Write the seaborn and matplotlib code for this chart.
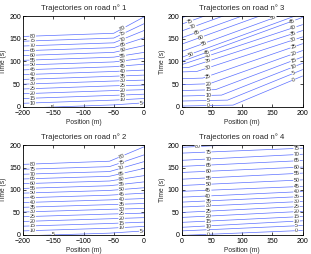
import numpy as np
import pandas as pd
import matplotlib
matplotlib.use('Agg')
import matplotlib.pyplot as plt
import seaborn as sns

# ---- road 1 (incoming, x from -200 to 0) ----
road1_veh = list(range(5, 85, 5))
road1_x_bend = -50
road1_t_start = [-2.5, 8, 18.5, 29, 39.5, 50, 60.5, 71, 81.5, 92, 102.5, 113, 123.5, 134, 144.5, 155]
road1_t_bend = [4.5, 15, 25.5, 36, 46.5, 57, 67.5, 78, 88.5, 99, 109.5, 120, 130.5, 141, 151.5, 162]
road1_t_end = [9, 18.5, 28, 38, 48, 59, 70, 81, 94, 107, 120, 135, 152, 168, 183, 198]

# ---- road 2 (incoming, x from -200 to 0) ----
road2_veh = list(range(5, 85, 5))
road2_x_bend = -57
road2_t_start = [-2, 9, 19.5, 30, 40.5, 51, 61.5, 72, 82.5, 93, 103.5, 114, 124.5, 135, 146, 157]
road2_t_bend = [4, 15, 25.5, 36, 46.5, 57, 67.5, 78, 88.5, 99, 109.5, 120, 130.5, 141, 152, 164]
road2_t_end = [9, 19, 28.5, 38.5, 48.5, 59, 70, 81, 93, 105, 118, 132, 148, 163, 178, 196]

# ---- road 3 (outgoing, x from 0 to 200) ----
road3_veh = list(range(0, 85, 5))
road3_x_bend = [85, 76, 66, 56, 46, 35, 25, 12, 0, 0, 0, 0, 0, 0, 0, 0, 0]
road3_t_start = [2, 13, 24, 36, 49, 62, 77, 86, 93, 100, 109, 122, 138, 152, 167, 182, 196]
road3_t_bend = [4, 15, 26, 38, 51, 63.5, 78, 87, 93, 100, 109, 122, 138, 152, 167, 182, 196]
road3_t_end = [68, 82, 96, 110, 124, 139, 154, 168, 181, 197, 206, 219, 234, 248, 263, 277, 291]

# ---- road 4 (outgoing, x from 0 to 200) ----
road4_veh = list(range(0, 85, 5))
road4_t_start = [-1, 9, 17, 28, 39, 50, 62, 73, 84, 97, 110, 124, 139, 152.5, 166, 182, 195]
road4_t_end = [10, 21, 31.5, 41, 52.5, 63.5, 74.5, 85.5, 96.5, 108, 122.5, 137.5, 151, 165.5, 179.5, 193, 208]

# label x positions (clabel-like)
road1_lab_x = [[-152, -5]] + [[-184, -35]] * 15
road2_lab_x = [[-150, -5]] + [[-184, -37]] * 15
road3_lab_x = [[44, 185]] * 9 + [[42, 183], [15], [37, 152], [32], [25], [19.5], [14], []]
road4_lab_x = [[44, 190]] * 16 + [[27]]

LINE_COLOR = '#5c70ff'


def to_frame(veh, xs, ts):
    rows = []
    for v, xv, tv in zip(veh, xs, ts):
        for x, t in zip(xv, tv):
            rows.append({'veh': v, 'x': x, 't': t})
    return pd.DataFrame(rows)


roads = []
roads.append(dict(
    title='Trajectories on road n° 1', xlim=(-200, 0), veh=road1_veh,
    xs=[[-200, road1_x_bend, 0]] * len(road1_veh),
    ts=[list(a) for a in zip(road1_t_start, road1_t_bend, road1_t_end)],
    lab=road1_lab_x, ticks=[-200, -150, -100, -50, 0]))
roads.append(dict(
    title='Trajectories on road n° 3', xlim=(0, 200), veh=road3_veh,
    xs=[[0, b, 200] if b > 0 else [0, 200] for b in road3_x_bend],
    ts=[[a, b, c] if xb > 0 else [a, c]
        for a, b, c, xb in zip(road3_t_start, road3_t_bend, road3_t_end, road3_x_bend)],
    lab=road3_lab_x, ticks=[0, 50, 100, 150, 200]))
roads.append(dict(
    title='Trajectories on road n° 2', xlim=(-200, 0), veh=road2_veh,
    xs=[[-200, road2_x_bend, 0]] * len(road2_veh),
    ts=[list(a) for a in zip(road2_t_start, road2_t_bend, road2_t_end)],
    lab=road2_lab_x, ticks=[-200, -150, -100, -50, 0]))
roads.append(dict(
    title='Trajectories on road n° 4', xlim=(0, 200), veh=road4_veh,
    xs=[[0, 200]] * len(road4_veh),
    ts=[list(a) for a in zip(road4_t_start, road4_t_end)],
    lab=road4_lab_x, ticks=[0, 50, 100, 150, 200]))

sns.set_style('ticks')
plt.rcParams['font.family'] = ['Liberation Sans', 'DejaVu Sans']
plt.rcParams.update({
    'xtick.direction': 'in', 'ytick.direction': 'in',
    'xtick.top': True, 'ytick.right': True,
    'xtick.major.size': 2, 'ytick.major.size': 2,
    'xtick.major.width': 0.5, 'ytick.major.width': 0.5,
    'axes.linewidth': 0.6, 'axes.edgecolor': 'black',
})

fig = plt.figure(figsize=(3.11, 2.54), dpi=100)
positions = [
    [0.074, 0.579, 0.389, 0.358],
    [0.584, 0.579, 0.389, 0.358],
    [0.074, 0.075, 0.389, 0.354],
    [0.584, 0.075, 0.389, 0.354],
]

for pos, road in zip(positions, roads):
    ax = fig.add_axes(pos)
    df = to_frame(road['veh'], road['xs'], road['ts'])
    sns.lineplot(data=df, x='x', y='t', units='veh', estimator=None,
                 color=LINE_COLOR, lw=0.5, ax=ax, legend=False)
    ax.set_xlim(*road['xlim'])
    ax.set_ylim(0, 200)
    ax.set_xticks(road['ticks'])
    ax.set_yticks([0, 50, 100, 150, 200])
    ax.tick_params(labelsize=5, colors='black')
    ax.tick_params(axis='x', pad=2.5)
    ax.tick_params(axis='y', pad=1.5)
    ax.set_xlabel('Position (m)', fontsize=4.8, labelpad=1)
    ax.set_ylabel('Time (s)', fontsize=4.8)
    ax.yaxis.set_label_coords(-0.13, 0.5)
    ax.set_title(road['title'], fontsize=5.6, pad=4)

    # contour-style labels on the lines
    for v, xv, tv, lx in zip(road['veh'], road['xs'], road['ts'], road['lab']):
        for x in lx:
            t = np.interp(x, xv, tv)
            p0 = ax.transData.transform((x - 3, np.interp(x - 3, xv, tv)))
            p1 = ax.transData.transform((x + 3, np.interp(x + 3, xv, tv)))
            ang = np.degrees(np.arctan2(p1[1] - p0[1], p1[0] - p0[0]))
            ax.text(x, t, str(v), fontsize=3.8, ha='center', va='center',
                    rotation=ang, rotation_mode='anchor', color='#222222',
                    bbox=dict(fc='white', ec='none', pad=0.2), clip_on=True)

fig.savefig('out.png', dpi=100)
